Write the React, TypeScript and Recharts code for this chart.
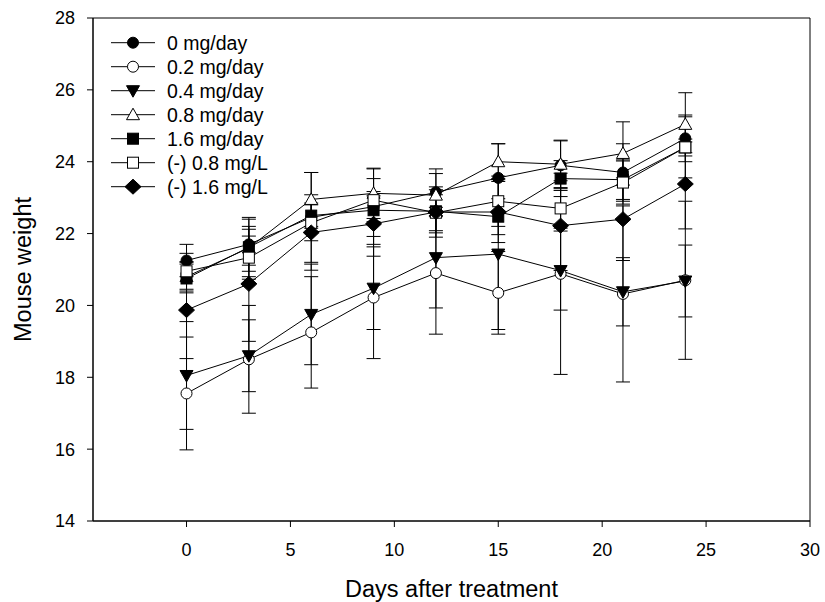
import { ErrorBar, Line, LineChart, ReferenceArea, XAxis, YAxis } from "recharts";

const days = [0, 3, 6, 9, 12, 15, 18, 21, 24];
const xTicks = [0, 5, 10, 15, 20, 25, 30];
const yTicks = [14, 16, 18, 20, 22, 24, 26, 28];

// mean weights per group
const dose0 = [21.25, 21.7, 22.45, 22.75, 23.15, 23.55, 23.9, 23.7, 24.65];
const dose02 = [17.55, 18.5, 19.25, 20.22, 20.9, 20.35, 20.88, 20.32, 20.7];
const dose04 = [18.05, 18.6, 19.75, 20.48, 21.33, 21.43, 20.97, 20.38, 20.68];
const dose08 = [20.8, 21.6, 22.95, 23.12, 23.07, 24.0, 23.93, 24.23, 25.04];
const dose16 = [20.75, 21.62, 22.5, 22.65, 22.62, 22.47, 23.53, 23.5, 24.4];
const neg08 = [20.95, 21.33, 22.3, 22.93, 22.58, 22.9, 22.7, 23.42, 24.4];
const neg16 = [19.87, 20.6, 22.03, 22.27, 22.6, 22.6, 22.22, 22.4, 23.38];

// error bar half-lengths
const dose0Err = [0.45, 0.75, 1.25, 1.05, 0.65, 0.95, 0.7, 0.8, 0.65];
const dose02Err = [1.57, 1.5, 1.55, 1.7, 1.7, 1.15, 2.8, 2.45, 2.2];
const dose04Err = [1.5, 1.0, 1.4, 1.15, 1.4, 2.1, 1.1, 0.95, 1.0];
const dose08Err = [0.4, 0.8, 0.75, 0.7, 0.6, 0.5, 0.65, 0.88, 0.88];
const dose16Err = [0.4, 0.5, 0.35, 0.4, 0.6, 0.5, 0.5, 0.55, 0.15];
const neg08Err = [0.5, 0.6, 0.5, 0.6, 0.5, 0.7, 0.55, 0.6, 0.85];
const neg16Err = [1.35, 1.6, 1.05, 0.9, 0.7, 0.85, 1.25, 1.15, 1.25];

const series = [
  { key: "d0", name: "0 mg/day", values: dose0, errors: dose0Err, shape: "circle", filled: true },
  { key: "d02", name: "0.2 mg/day", values: dose02, errors: dose02Err, shape: "circle", filled: false },
  { key: "d04", name: "0.4 mg/day", values: dose04, errors: dose04Err, shape: "down", filled: true },
  { key: "d08", name: "0.8 mg/day", values: dose08, errors: dose08Err, shape: "up", filled: false },
  { key: "d16", name: "1.6 mg/day", values: dose16, errors: dose16Err, shape: "square", filled: true },
  { key: "n08", name: "(-) 0.8 mg/L", values: neg08, errors: neg08Err, shape: "square", filled: false },
  { key: "n16", name: "(-) 1.6 mg/L", values: neg16, errors: neg16Err, shape: "diamond", filled: true },
];

const data = days.map((day, i) => {
  const row: Record<string, number> = { day };
  series.forEach((s) => {
    row[s.key] = s.values[i];
    row[s.key + "Err"] = s.errors[i];
  });
  return row;
});

const FONT = "'Liberation Sans', Arial, sans-serif";

function Marker({ shape, filled, cx, cy }: { shape: string; filled: boolean; cx: number; cy: number }) {
  const fill = filled ? "#000" : "#fff";
  const common = { fill, stroke: "#000", strokeWidth: 1 };
  if (shape === "circle") return <circle cx={cx} cy={cy} r={5.5} {...common} />;
  if (shape === "square") return <rect x={cx - 5.5} y={cy - 5.5} width={11} height={11} {...common} />;
  if (shape === "down")
    return <polygon points={`${cx - 6.5},${cy - 5} ${cx + 6.5},${cy - 5} ${cx},${cy + 6.5}`} {...common} />;
  if (shape === "up")
    return <polygon points={`${cx - 6.5},${cy + 5} ${cx + 6.5},${cy + 5} ${cx},${cy - 6.5}`} {...common} />;
  return <polygon points={`${cx - 8},${cy} ${cx},${cy - 7.5} ${cx + 8},${cy} ${cx},${cy + 7.5}`} {...common} />;
}

function LegendBox() {
  return (
    <svg width={320} height={210} style={{ position: "absolute", left: 0, top: 0 }}>
      {series.map((s, i) => {
        const y = 42.7 + i * 24;
        return (
          <g key={s.key}>
            <line x1={111} x2={155} y1={y} y2={y} stroke="#000" strokeWidth={1} />
            <Marker shape={s.shape} filled={s.filled} cx={133} cy={y} />
            <text x={167} y={y + 6.8} fontFamily={FONT} fontSize={19.5} fill="#000">
              {s.name}
            </text>
          </g>
        );
      })}
    </svg>
  );
}

export default function App() {
  return (
    <div style={{ position: "absolute", left: 0, top: 0, width: 825, height: 602, background: "#fff" }}>
      <LineChart width={825} height={602} data={data} margin={{ top: 18, right: 15, left: 0, bottom: 0 }}>
        <ReferenceArea x1={-4.5} x2={30} y1={14} y2={28} fill="none" stroke="#000" strokeWidth={1} fillOpacity={0} />
        <XAxis
          dataKey="day"
          type="number"
          domain={[-4.5, 30]}
          ticks={xTicks}
          allowDataOverflow
          height={81}
          stroke="#000"
          tickSize={6}
          tickMargin={16}
          tick={{ fill: "#000", fontSize: 18, fontFamily: FONT }}
          label={{ value: "Days after treatment", position: "insideBottom", offset: 5, fill: "#000", fontSize: 23.5, fontFamily: FONT }}
        />
        <YAxis
          type="number"
          domain={[14, 28]}
          ticks={yTicks}
          allowDataOverflow
          width={93}
          stroke="#000"
          tickSize={6}
          tickMargin={12}
          tick={{ fill: "#000", fontSize: 18, fontFamily: FONT }}
          label={{
            value: "Mouse weight",
            angle: -90,
            position: "insideLeft",
            offset: 23,
            fill: "#000",
            fontSize: 23.5,
            fontFamily: FONT,
            style: { textAnchor: "middle" },
          }}
        />
        {series.map((s) => (
          <Line
            key={s.key}
            dataKey={s.key}
            name={s.name}
            type="linear"
            stroke="#000"
            strokeWidth={1}
            isAnimationActive={false}
            dot={(p: any) => <Marker key={`${s.key}-${p.index}`} shape={s.shape} filled={s.filled} cx={p.cx} cy={p.cy} />}
            activeDot={false}
          >
            <ErrorBar dataKey={s.key + "Err"} width={7} stroke="#000" strokeWidth={1} direction="y" />
          </Line>
        ))}
      </LineChart>
      <LegendBox />
    </div>
  );
}
